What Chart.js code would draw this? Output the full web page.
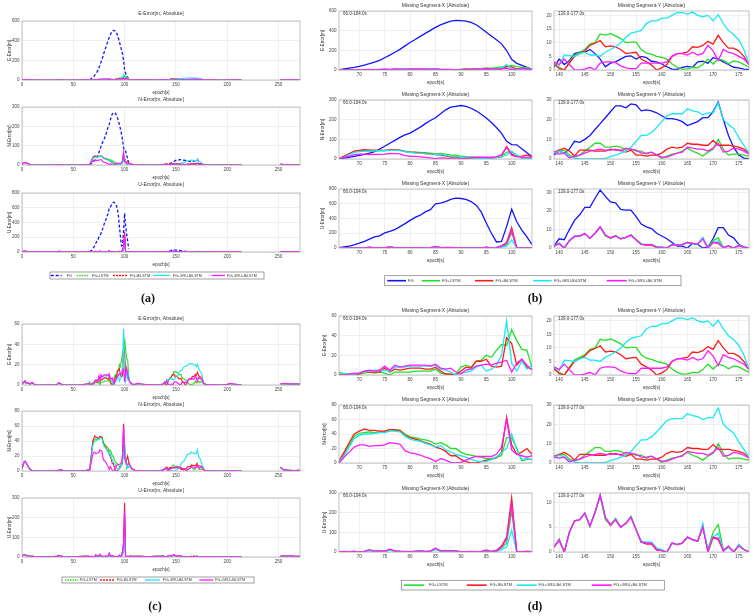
<!DOCTYPE html>
<html>
<head>
<meta charset="utf-8">
<script src="https://cdn.jsdelivr.net/npm/chart.js@4.4.1/dist/chart.umd.min.js"></script>
<style>
  html, body { margin: 0; padding: 0; background: #fff; }
  #page { position: relative; width: 756px; height: 616px; overflow: hidden; background: #fff; }
  #page canvas { position: absolute; }
  .tag { position: absolute; font: bold 12px "Liberation Serif", "DejaVu Serif", serif; line-height: 12px; color: #111; transform: translateX(-50%); }
</style>
</head>
<body>
<div id="page">
  <canvas id="overlay" width="756" height="616" style="left:0;top:0"></canvas>
  <div class="tag" style="left:148px;top:292px">(a)</div>
  <div class="tag" style="left:535px;top:292px">(b)</div>
  <div class="tag" style="left:155px;top:600px">(c)</div>
  <div class="tag" style="left:535px;top:600px">(d)</div>
</div>
<script>
const NAMES = ['FG', 'FG+LSTM', 'FG+BiLSTM', 'FG+GRU-BiLSTM', 'FG+GRU+BiLSTM'];
const COLORS = ['#1414ff', '#22e022', '#ff1a1a', '#19e8f5', '#ff1aff'];

const X_EPOCHS = [66, 67, 68, 69, 70, 71, 72, 73, 74, 75, 76, 77, 78, 79, 80, 81, 82, 83, 84, 85,
  86, 87, 88, 89, 90, 91, 92, 93, 94, 95, 96, 97, 98, 99, 100, 101, 102, 103, 104];
const Y_EPOCHS = [139, 140, 141, 142, 143, 144, 145, 146, 147, 148, 149, 150, 151, 152, 153, 154, 155, 156, 157, 158,
  159, 160, 161, 162, 163, 164, 165, 166, 167, 168, 169, 170, 171, 172, 173, 174, 175, 176, 177];

const FULL_TICKS = [0, 50, 100, 150, 200, 250];
const X_TICKS = [70, 75, 80, 85, 90, 95, 100];
const Y_TICKS = [140, 145, 150, 155, 160, 165, 170, 175];

// E error, missing segment X (66-104 s)
const E_X_FG = [2, 10, 18, 26, 36, 50, 64, 80, 98, 125, 152, 180, 210, 245, 280, 310, 342, 372, 403, 433,
  458, 480, 496, 505, 503, 497, 484, 460, 425, 385, 345, 307, 266, 198, 109, 68, 48, 27, 7];
const E_X_LSTM = [3, 1, 1, 1, 1, 2, 3, 2, 3, 2, 0, 3, 3, 3, 3, 4, 4, 4, 4, 6,
  2, 1, 0, 1, 8, 10, 8, 14, 15, 20, 18, 25, 31, 30, 46, 35, 26, 25, 8];
const E_X_BILSTM = [1, 0, 1, 1, 1, 4, 3, 3, 3, 7, 3, 6, 5, 6, 7, 7, 7, 6, 6, 8,
  4, 1, 1, 0, 4, 8, 7, 14, 14, 16, 9, 8, 9, 38, 32, 10, 16, 8, 6];
const E_X_GRU_BI = [0, 1, 1, 1, 2, 4, 4, 5, 5, 5, 4, 8, 8, 8, 9, 9, 9, 9, 9, 10,
  6, 5, 3, 0, 2, 3, 4, 8, 10, 4, 6, 10, 20, 55, 12, 4, 14, 6, 10];
const E_X_GRU_PLUS = [0, 0, 1, 2, 2, 4, 5, 4, 5, 9, 5, 10, 8, 9, 10, 10, 10, 10, 9, 11,
  7, 6, 7, 3, 1, 5, 6, 9, 10, 11, 10, 12, 13, 15, 3, 12, 16, 10, 5];

// E error, missing segment Y (139-177 s)
const E_Y_FG = [1, 4, 2, 3.5, 6, 6.5, 6.5, 7.5, 6, 4, 1.2, 2.5, 3, 4, 5, 5.2, 4, 5, 4.5, 3.2,
  3, 2.2, 1.2, 0.3, 0.2, 1, 1.3, 1, 3, 3.2, 2.5, 4.5, 4, 3, 2, 1, 0.8, 0.3, 0.2];
const E_Y_LSTM = [2, 1, 0, 3, 5.5, 6.5, 7.5, 9.5, 10, 13.2, 12.8, 13.3, 12.5, 11.5, 10, 10.2, 10.2, 7.5, 6.2, 5.8,
  5, 4.6, 4, 2.2, 1, 0.3, 0.4, 1, 0.8, 2, 4, 2.2, 4, 3.5, 2.3, 3.3, 3, 2, 1];
const E_Y_BILSTM = [2.5, 0.5, 0, 2.5, 5, 6, 7, 9, 9.8, 10.8, 8.5, 8.8, 8.5, 7.5, 6, 6.3, 6.5, 4, 3, 1.8,
  0, 0.8, 2, 5, 6, 6.2, 6.5, 8.5, 8.3, 9, 10.5, 9.5, 12.7, 10, 8, 8, 7, 5, 2];
const E_Y_GRU_BI = [3, 1.7, 5.5, 5.3, 5, 6, 6.5, 5.5, 5.5, 5, 6.5, 7.5, 8.5, 10, 12, 13.5, 14, 14.5, 17, 18,
  18, 19, 19, 20, 21, 21, 20.5, 21.2, 20, 19.5, 20, 18, 20.3, 17, 14.5, 13, 11, 7.5, 2];
const E_Y_GRU_PLUS = [3, 2, 4, 2, 0, 0, 0.3, 1, 0, 2.5, 3, 3, 2.7, 1.5, 0.8, 0.5, 0.5, 2.5, 2.5, 2.5,
  2.5, 2.5, 3, 5, 6, 6, 5.5, 6.5, 5.5, 6, 9, 7, 3.5, 7.5, 6.5, 6, 5, 4, 2];

// N error, missing segment X
const N_X_FG = [0, 4, 8, 13, 19, 24, 30, 38, 50, 65, 80, 95, 110, 123, 132, 147, 162, 180, 196, 210,
  230, 250, 264, 268, 272, 268, 258, 245, 228, 208, 186, 160, 130, 90, 73, 72, 52, 32, 12];
const N_X_LSTM = [2, 12, 25, 37, 41, 42, 43, 42, 43, 43, 46, 45, 45, 40, 36, 35, 33, 32, 30, 26,
  28, 25, 20, 20, 15, 12, 11, 9, 8, 6, 6, 8, 10, 35, 35, 20, 3, 5, 5];
const N_X_BILSTM = [3, 15, 28, 40, 44, 47, 45, 45, 44, 44, 46, 46, 45, 38, 35, 33, 31, 28, 26, 22,
  20, 16, 10, 10, 5, 2, 0, 0, 2, 4, 5, 7, 15, 63, 25, 12, 15, 20, 12];
const N_X_GRU_BI = [2, 10, 22, 34, 38, 40, 40, 41, 42, 42, 44, 44, 43, 37, 33, 31, 30, 27, 25, 22,
  24, 18, 15, 12, 10, 8, 5, 3, 2, 2, 5, 8, 15, 20, 40, 18, 5, 6, 5];
const N_X_GRU_PLUS = [0, 8, 15, 22, 25, 25, 23, 24, 24, 25, 28, 27, 26, 17, 14, 13, 11, 8, 6, 2,
  6, 4, 1, 0, 1, 4, 7, 9, 9, 9, 9, 12, 22, 60, 18, 12, 10, 8, 10];

// N error, missing segment Y
const N_Y_FG = [2, 4, 3, 5, 9, 8.5, 10, 12, 15, 18, 21, 24, 27, 27, 26, 28, 27.5, 24.5, 25, 24.5,
  23.5, 22, 20.5, 20.5, 20, 19, 17, 18, 19, 21, 21, 24, 29, 20, 12, 6, 2, 0.5, 0];
const N_Y_LSTM = [3, 4, 4.5, 2, 1, 2, 4, 6, 8, 8, 6, 6, 6.5, 6, 4.5, 5, 4, 4, 2.5, 3.5,
  2, 0.3, 1.5, 2.5, 3, 4, 5.5, 4, 3, 1.5, 3.5, 5, 10, 5, 2, 2.5, 2.5, 2, 1.5];
const N_Y_BILSTM = [3.5, 4.5, 5.5, 4, 1.5, 4.5, 4.5, 4.5, 4, 4, 4, 5, 4.5, 4.5, 3.5, 4.5, 2, 2, 1.5, 2,
  2, 3, 5, 6, 5.5, 6, 8, 7.5, 7.5, 7, 7, 9.5, 7, 7, 7, 6.5, 6, 5, 3];
const N_Y_GRU_BI = [3, 4, 3, 1.5, 0.5, 0, 0, 0, 0, 0, 0.3, 1.2, 2, 3, 4, 6, 9, 12, 12, 13.5,
  16, 19, 22, 23, 23, 23, 25.5, 24.5, 24, 22.5, 23.5, 23.5, 28.5, 20, 17.5, 15.5, 11, 7, 3];
const N_Y_GRU_PLUS = [3, 2.5, 3, 0.5, 1.5, 2, 3, 4, 4.5, 5, 4.5, 4.5, 5, 4, 5.5, 5, 4.5, 3, 3, 3.5,
  2, 1, 1, 2, 3, 3.5, 6, 5.5, 5, 5, 4, 5.5, 8, 3.5, 4, 5.5, 5, 4, 2.5];

// U error, missing segment X
const U_X_FG = [5, 15, 25, 42, 65, 90, 120, 150, 165, 205, 225, 250, 290, 330, 375, 415, 445, 490, 520, 600,
  608, 630, 660, 675, 671, 660, 630, 580, 490, 340, 200, 82, 90, 290, 525, 356, 242, 150, 46];
const U_X_LSTM = [1, 2, 1, 2, 1, 2, 8, 3, 4, 3, 10, 4, 3, 2, 1, 3, 4, 2, 3, 14,
  4, 5, 5, 4, 1, 1, 2, 1, 2, 6, 2, 5, 20, 45, 212, 0, 1, 2, 2];
const U_X_BILSTM = [2, 2, 1, 3, 1, 3, 9, 3, 5, 4, 12, 5, 3, 2, 2, 3, 5, 2, 4, 16,
  5, 6, 6, 5, 1, 2, 2, 1, 2, 7, 2, 8, 30, 75, 275, 0, 2, 3, 2];
const U_X_GRU_BI = [1, 1, 1, 2, 1, 2, 7, 2, 4, 3, 9, 4, 2, 2, 1, 2, 4, 2, 3, 13,
  4, 5, 4, 4, 1, 1, 2, 1, 2, 8, 2, 3, 12, 25, 110, 0, 1, 2, 1];
const U_X_GRU_PLUS = [2, 3, 2, 3, 1, 3, 12, 4, 6, 5, 14, 6, 4, 3, 2, 4, 6, 3, 5, 20,
  6, 7, 7, 6, 2, 2, 3, 2, 3, 10, 3, 6, 25, 65, 238, 0, 2, 3, 2];

// U error, missing segment Y
const U_Y_FG = [1, 5, 4.5, 10, 15, 18, 22, 22, 27, 31.5, 28, 25, 24.5, 21, 20.5, 20.5, 17, 13, 11.5, 10.5,
  8, 6.5, 5, 3, 1, 1, 0, 2.5, 2, 0, 0.5, 5, 11, 11, 7, 5.5, 2, 0.5, 0];
const U_Y_LSTM = [1, 2.5, 0, 4, 6.3, 6.5, 7.8, 5.2, 8, 11.2, 6.5, 5.5, 6.8, 5, 5.8, 7.2, 4.5, 2, 1.8, 1.8,
  0.5, 0.3, 0, 1.8, 1.5, 1.8, 3, 2.5, 2.2, 5, 0.5, 4, 5.5, 0.5, 1, 0, 1.3, 0.5, 0];
const U_Y_BILSTM = [1, 2.6, 0, 4, 6.3, 6.5, 7.8, 5.2, 8, 11.5, 7, 5.3, 6.5, 5, 5.8, 7, 4.5, 2, 1.6, 1.6,
  0.4, 0.3, 0, 1.8, 1.5, 1.8, 3, 2.5, 2.2, 5.2, 0, 3, 2.5, 0.2, 1, 0, 1.5, 0.5, 0];
const U_Y_GRU_BI = [1, 2.5, 0, 4, 6.3, 6.5, 7.8, 5.2, 8, 11.5, 7, 5.5, 6.5, 5, 5.8, 7, 4.5, 2.2, 2, 2,
  0.8, 0.5, 0, 1.8, 1.5, 1.8, 3, 2.5, 2.2, 5.8, 0, 3, 3.8, 0.2, 1, 0, 1.5, 0.5, 0];
const U_Y_GRU_PLUS = [1, 2.3, 0, 4, 6.3, 6.5, 7.8, 5.2, 8, 11.5, 7, 5.5, 6.5, 5, 5.8, 7, 4.5, 2, 1.8, 1.8,
  0.5, 0.3, 0, 1.8, 1.5, 1.8, 3, 2.5, 2.2, 5, 0, 3, 2.8, 0.2, 1.2, 0, 1.2, 0.5, 0];

// errors outside the two missing segments (null = no data)
const BG_EPOCHS = [0, 2, 3, 4, 6, 8, 10, 12, 15, 20, 25, 30, 34, 36, 38, 40, 45, 50, 55, 60,
  63, 65, 105, 107, 110, 113, 116, 120, 125, 130, 135, 138, 178, 180, 185, 190, 195, 200, 203, 206,
  210, 214, 230, 252, 255, 260, 265, 271];
const BG_E = [1, 3, 4, 2, 2, 1, 2.5, 0.5, 0, 0, 0, 0, 0.5, 2, 1, 0, 0, 0, 0, 0.5,
  1, 1.5, 3, 1, 0.5, 1.5, 1, 0.5, 0.5, 0, 0.5, 1, 1, 0.5, 0.5, 0, 0, 0.5, 1.5, 1,
  0.5, 0, null, 1, 1.5, 1, 1, 1];
const BG_N = [3, 12, 13, 11, 6, 2, 0.5, 0, 0, 0, 0, 0, 0.5, 1, 1.5, 0.5, 0, 0, 0, 0.5,
  1, 1.5, 8, 3, 1, 0.5, 0.5, 0, 0, 0, 0.5, 1.5, 1, 0.5, 0, 0, 0, 0, 0.5, 0.5,
  0, 0, null, 5, 1.5, 1, 0.5, 1];
const BG_U = [6, 10, 12, 8, 5, 3, 4, 2, 1, 1, 1, 2, 3, 8, 5, 2, 1, 1, 2, 3,
  3, 4, 5, 4, 3, 3, 3, 2, 2, 3, 4, 5, 2, 2, 1, 1, 1, 1, 2, 1,
  1, 1, null, 4, 5, 6, 4, 3];

const SEG = {
  E: { x: [E_X_FG, E_X_LSTM, E_X_BILSTM, E_X_GRU_BI, E_X_GRU_PLUS], y: [E_Y_FG, E_Y_LSTM, E_Y_BILSTM, E_Y_GRU_BI, E_Y_GRU_PLUS], bg: BG_E },
  N: { x: [N_X_FG, N_X_LSTM, N_X_BILSTM, N_X_GRU_BI, N_X_GRU_PLUS], y: [N_Y_FG, N_Y_LSTM, N_Y_BILSTM, N_Y_GRU_BI, N_Y_GRU_PLUS], bg: BG_N },
  U: { x: [U_X_FG, U_X_LSTM, U_X_BILSTM, U_X_GRU_BI, U_X_GRU_PLUS], y: [U_Y_FG, U_Y_LSTM, U_Y_BILSTM, U_Y_GRU_BI, U_Y_GRU_PLUS], bg: BG_U }
};

const FONT = '"Liberation Sans", Arial, sans-serif';
const L = 22, T = 11, B = 18, R = 6;

// line looks: full-range plots, zoomed segment plots, and the dashed legend keys of (a)/(c)
const THIN = { w: [1.3, 1.1, 1.1, 1.1, 1.2], dash: [[3, 2], [], [], [], []] };
const THICK = { w: [1.3, 1.3, 1.3, 1.3, 1.3], dash: [[], [], [], [], []] };
const KEY_THIN = { w: [1.2, 1, 1, 1, 1], dash: [[3, 2], [1.5, 1], [2, 1], [], []] };

const TX = 'Missing Segment-X (Absolute)', TY = 'Missing Segment-Y (Absolute)';
const PLOTS = [
  // (a)
  { rect: [22, 21, 300, 80], range: 'full', comp: 'E', fg: true, yMax: 600, yTicks: [0, 200, 400, 600], title: 'E-Error[m, Absolute]', yTitle: 'E-Error[m]', tGap: 7.5, yGap: 12 },
  { rect: [22, 107, 300, 165], range: 'full', comp: 'N', fg: true, yMax: 300, yTicks: [0, 100, 200, 300], title: 'N-Error[m, Absolute]', yTitle: 'N-Error[m]', tGap: 7, yGap: 12 },
  { rect: [22, 193, 300, 252], range: 'full', comp: 'U', fg: true, yMax: 800, yTicks: [0, 200, 400, 600, 800], title: 'U-Error[m, Absolute]', yTitle: 'U-Error[m]', tGap: 8.5, yGap: 12 },
  // (b)
  { rect: [339, 11, 532, 70], range: 'X', comp: 'E', fg: true, yMax: 600, yTicks: [0, 200, 400, 600], title: TX, yTitle: 'E-Error[m]', note: '66.0-104.0s', tGap: 5.3, yGap: 16 },
  { rect: [339, 100, 532, 159], range: 'X', comp: 'N', fg: true, yMax: 300, yTicks: [0, 100, 200, 300], title: TX, yTitle: 'N-Error[m]', note: '66.0-104.0s', tGap: 5.3, yGap: 16 },
  { rect: [339, 189, 532, 248], range: 'X', comp: 'U', fg: true, yMax: 800, yTicks: [0, 200, 400, 600, 800], title: TX, yTitle: 'U-Error[m]', note: '66.0-104.0s', tGap: 5.3, yGap: 16 },
  { rect: [554, 11, 749, 70], range: 'Y', comp: 'E', fg: true, yMax: 21.6, yTicks: [0, 5, 10, 15, 20], title: TY, note: '139.0-177.0s', tGap: 5.3 },
  { rect: [554, 100, 749, 159], range: 'Y', comp: 'N', fg: true, yMax: 30, yTicks: [0, 10, 20, 30], title: TY, note: '139.0-177.0s', tGap: 5.3 },
  { rect: [554, 189, 749, 248], range: 'Y', comp: 'U', fg: true, yMax: 32, yTicks: [0, 10, 20, 30], title: TY, note: '139.0-177.0s', tGap: 5.3 },
  // (c)
  { rect: [22, 324, 300, 385], range: 'full', comp: 'E', fg: false, yMax: 60, yTicks: [0, 20, 40, 60], title: 'E-Error[m, Absolute]', yTitle: 'E-Error[m]', tGap: 5.5, yGap: 12 },
  { rect: [22, 411, 300, 471], range: 'full', comp: 'N', fg: false, yMax: 80, yTicks: [0, 20, 40, 60, 80], title: 'N-Error[m, Absolute]', yTitle: 'N-Error[m]', tGap: 6, yGap: 12 },
  { rect: [22, 498, 300, 557], range: 'full', comp: 'U', fg: false, yMax: 300, yTicks: [0, 100, 200, 300], title: 'U-Error[m, Absolute]', yTitle: 'U-Error[m]', tGap: 7, yGap: 12 },
  // (d)
  { rect: [339, 316, 532, 375], range: 'X', comp: 'E', fg: false, yMax: 60, yTicks: [0, 20, 40, 60], title: TX, yTitle: 'E-Error[m]', note: '66.0-104.0s', tGap: 5, yGap: 14 },
  { rect: [339, 405, 532, 463], range: 'X', comp: 'N', fg: false, yMax: 80, yTicks: [0, 20, 40, 60, 80], title: TX, yTitle: 'N-Error[m]', note: '66.0-104.0s', tGap: 5.5, yGap: 14 },
  { rect: [339, 493, 532, 552], range: 'X', comp: 'U', fg: false, yMax: 300, yTicks: [0, 100, 200, 300], title: TX, yTitle: 'U-Error[m]', note: '66.0-104.0s', tGap: 4.5, yGap: 14 },
  { rect: [554, 316, 749, 375], range: 'Y', comp: 'E', fg: false, yMax: 21.8, yTicks: [0, 5, 10, 15, 20], title: TY, note: '139.0-177.0s', tGap: 5 },
  { rect: [554, 405, 749, 463], range: 'Y', comp: 'N', fg: false, yMax: 30, yTicks: [0, 10, 20, 30], title: TY, note: '139.0-177.0s', tGap: 5.5 },
  { rect: [554, 493, 749, 552], range: 'Y', comp: 'U', fg: false, yMax: 11.9, yTicks: [0, 5, 10], title: TY, note: '139.0-177.0s', tGap: 4.5 }
];

const LEGENDS = [
  { box: [50, 272, 264, 279], style: KEY_THIN, font: 3.6, items: [[0, 50.7, 61.7, 66.7], [1, 76.7, 89, 91.7], [2, 113, 128, 130], [3, 153, 170, 172.7], [4, 211.7, 225, 226.7]] },
  { box: [384.7, 275.7, 681, 285.7], style: THICK, font: 4, items: [[0, 387.3, 406, 408], [1, 421.7, 440, 442], [2, 475, 493.3, 495.5], [3, 533.3, 551.7, 554], [4, 606.7, 626.7, 628.5]] },
  { box: [62, 577, 254, 583], style: KEY_THIN, font: 3.6, items: [[1, 65, 78.3, 80], [2, 100, 115, 116.7], [3, 145, 160, 162.7], [4, 199.3, 213.3, 215]] },
  { box: [401.3, 580.3, 664.3, 590], style: THICK, font: 4, items: [[1, 404, 424, 429], [2, 466.7, 486.7, 490], [3, 516.7, 536.7, 538.5], [4, 591.7, 611.7, 613.5]] }
];

function pts(xs, ys) {
  return xs.map((x, i) => ({ x, y: ys[i] }));
}

function seriesData(p, i) {
  const s = SEG[p.comp];
  if (p.range === 'X') return pts(X_EPOCHS, s.x[i]);
  if (p.range === 'Y') return pts(Y_EPOCHS, s.y[i]);
  if (i === 0) return pts(X_EPOCHS, s.x[0]).concat([{ x: 120, y: null }], pts(Y_EPOCHS, s.y[0]));
  return pts(BG_EPOCHS, s.bg).concat(pts(X_EPOCHS, s.x[i]), pts(Y_EPOCHS, s.y[i])).sort((a, b) => a.x - b.x);
}

const decor = {
  id: 'decor',
  afterDraw(chart, args, o) {
    const { ctx, chartArea: a } = chart;
    const cx = (a.left + a.right) / 2;
    ctx.save();
    ctx.strokeStyle = '#9a9a9a';
    ctx.lineWidth = 0.6;
    ctx.strokeRect(a.left, a.top, a.right - a.left, a.bottom - a.top);
    ctx.fillStyle = '#333';
    ctx.textAlign = 'center';
    ctx.textBaseline = 'middle';
    ctx.font = `5px ${FONT}`;
    if (o.title) ctx.fillText(o.title, cx, a.top - o.tGap);
    ctx.font = `4.5px ${FONT}`;
    ctx.fillText('epoch[s]', cx, a.bottom + 13);
    if (o.note) {
      ctx.textAlign = 'left';
      ctx.fillText(o.note, a.left + 4, a.top + 2.5);
    }
    if (o.yTitle) {
      ctx.textAlign = 'center';
      ctx.translate(a.left - o.yGap, (a.top + a.bottom) / 2);
      ctx.rotate(-Math.PI / 2);
      ctx.fillText(o.yTitle, 0, 0);
    }
    ctx.restore();
  }
};
Chart.register(decor);

const page = document.getElementById('page');

PLOTS.forEach(p => {
  const [l, t, r, b] = p.rect;
  const canvas = document.createElement('canvas');
  canvas.width = r - l + L + R;
  canvas.height = b - t + T + B;
  canvas.style.left = (l - L) + 'px';
  canvas.style.top = (t - T) + 'px';
  page.appendChild(canvas);

  const style = p.range === 'full' ? THIN : THICK;
  const idx = p.fg ? [0, 1, 2, 3, 4] : [1, 2, 3, 4];
  const xr = p.range === 'full' ? [0, 271, FULL_TICKS] : p.range === 'X' ? [66, 104, X_TICKS] : [139, 177, Y_TICKS];

  const tickFont = { size: 4.5, family: FONT };
  new Chart(canvas, {
    type: 'line',
    data: {
      datasets: idx.map(i => ({
        label: NAMES[i],
        data: seriesData(p, i),
        borderColor: COLORS[i],
        borderWidth: style.w[i],
        borderDash: style.dash[i],
        pointRadius: 0,
        tension: 0,
        fill: false,
        spanGaps: false,
        order: 4 - i
      }))
    },
    options: {
      responsive: false,
      animation: false,
      events: [],
      layout: { padding: { left: 0, top: T, right: R, bottom: 0 } },
      plugins: {
        legend: { display: false },
        tooltip: { enabled: false },
        decor: { title: p.title, yTitle: p.yTitle, note: p.note, tGap: p.tGap, yGap: p.yGap }
      },
      scales: {
        x: {
          type: 'linear', min: xr[0], max: xr[1],
          afterBuildTicks: s => { s.ticks = xr[2].map(v => ({ value: v })); },
          afterFit: s => { s.height = B; },
          grid: { color: '#e4e4e4', lineWidth: 0.6, drawTicks: false },
          border: { display: false },
          ticks: { autoSkip: false, maxRotation: 0, padding: 2.5, color: '#444', font: tickFont }
        },
        y: {
          min: 0, max: p.yMax,
          afterBuildTicks: s => { s.ticks = p.yTicks.map(v => ({ value: v })); },
          afterFit: s => { s.width = L; },
          grid: { color: '#e4e4e4', lineWidth: 0.6, drawTicks: false },
          border: { display: false },
          ticks: { autoSkip: false, padding: 2.5, color: '#444', font: tickFont }
        }
      }
    }
  });
});

// shared legends under each panel
const octx = document.getElementById('overlay').getContext('2d');
LEGENDS.forEach(lg => {
  const [x1, y1, x2, y2] = lg.box;
  const cy = (y1 + y2) / 2;
  octx.strokeStyle = '#7a7a7a';
  octx.lineWidth = 0.7;
  octx.strokeRect(x1, y1, x2 - x1, y2 - y1);
  lg.items.forEach(([i, a, b, tx]) => {
    octx.beginPath();
    octx.setLineDash(lg.style.dash[i]);
    octx.strokeStyle = COLORS[i];
    octx.lineWidth = lg.style.w[i] + 0.3;
    octx.moveTo(a, cy);
    octx.lineTo(b, cy);
    octx.stroke();
    octx.setLineDash([]);
    octx.fillStyle = '#333';
    octx.font = `${lg.font}px ${FONT}`;
    octx.textBaseline = 'middle';
    octx.fillText(NAMES[i], tx, cy);
  });
});
</script>
</body>
</html>
